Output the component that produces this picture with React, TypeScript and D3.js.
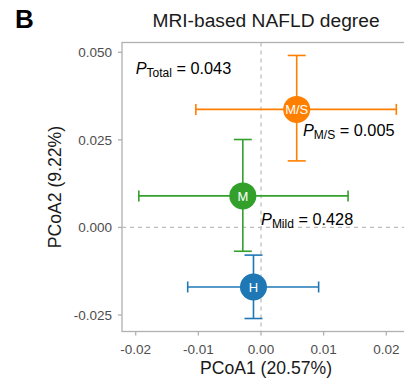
import React from "react";
import * as d3 from "d3";

const groups = ["H", "M", "M/S"];
const colors = ["#1f78b4", "#33a02c", "#ff7f00"];
const meanX = [-0.0012, -0.0029, 0.0057];
const meanY = [-0.0170, 0.0090, 0.0337];
const xLow = [-0.0117, -0.0195, -0.0104];
const xHigh = [0.0092, 0.0139, 0.0216];
const yLow = [-0.0260, -0.0068, 0.0190];
const yHigh = [-0.0079, 0.0251, 0.0491];

const xTicks = [-0.02, -0.01, 0.0, 0.01, 0.02];
const xTickLabels = ["-0.02", "-0.01", "0.00", "0.01", "0.02"];
const yTicks = [-0.025, 0.0, 0.025, 0.05];
const yTickLabels = ["-0.025", "0.000", "0.025", "0.050"];

const pLabels = ["Total", "M/S", "Mild"];
const pValues = ["0.043", "0.005", "0.428"];
const pX = [-0.0200, 0.0067, 0.0000];
const pY = [0.0437, 0.0262, 0.0007];

const W = 404;
const H = 381;
const font = "'Liberation Sans', Arial, Helvetica, sans-serif";

export default function App() {
  const x = d3.scaleLinear().domain([-0.02, 0.02]).range([135.7, 386.3]);
  const y = d3.scaleLinear().domain([-0.025, 0.05]).range([315, 52.3]);
  const left = 122, right = 410, top = 42.5, bottom = 331.5;
  const gray = "#b0b0b0";
  const tickCol = "#4d4d4d";
  return (
    <svg width={W} height={H} style={{ position: "absolute", left: 0, top: 0 }} fontFamily={font}>
      <rect x={0} y={0} width={W} height={H} fill="white" />
      <text x={15} y={28} fontSize={26} fontWeight="bold" fill="#000">B</text>
      <text x={266} y={27} fontSize={19.2} textAnchor="middle" fill="#1a1a1a">MRI-based NAFLD degree</text>
      {/* panel */}
      <rect x={left} y={top} width={right - left} height={bottom - top} fill="white" stroke={gray} strokeWidth={1.3} />
      {/* dashed zero lines */}
      <line x1={x(0)} x2={x(0)} y1={top} y2={bottom} stroke="#bdbdbd" strokeWidth={1.3} strokeDasharray="4,4" />
      <line x1={left} x2={right} y1={y(0)} y2={y(0)} stroke="#bdbdbd" strokeWidth={1.3} strokeDasharray="4,4" />
      {/* x ticks */}
      {xTicks.map((t, i) => (
        <g key={"xt" + i}>
          <line x1={x(t)} x2={x(t)} y1={bottom} y2={bottom + 4} stroke={gray} strokeWidth={1.3} />
          <text x={x(t)} y={354} fontSize={13.5} textAnchor="middle" fill={tickCol}>{xTickLabels[i]}</text>
        </g>
      ))}
      {yTicks.map((t, i) => (
        <g key={"yt" + i}>
          <line x1={left - 4} x2={left} y1={y(t)} y2={y(t)} stroke={gray} strokeWidth={1.3} />
          <text x={112} y={y(t) + 4.8} fontSize={13.5} textAnchor="end" fill={tickCol}>{yTickLabels[i]}</text>
        </g>
      ))}
      <text x={266} y={374} fontSize={17.6} textAnchor="middle" fill="#1a1a1a">PCoA1 (20.57%)</text>
      <text transform={`translate(61,187) rotate(-90)`} fontSize={17.6} textAnchor="middle" fill="#1a1a1a">PCoA2 (9.22%)</text>
      {/* error bars */}
      {groups.map((g, i) => {
        const c = colors[i];
        const cx = x(meanX[i]), cy = y(meanY[i]);
        return (
          <g key={"eb" + i} stroke={c} strokeWidth={1.6} fill="none">
            <line x1={x(xLow[i])} x2={x(xHigh[i])} y1={cy} y2={cy} />
            <line x1={x(xLow[i])} x2={x(xLow[i])} y1={cy - 5.5} y2={cy + 5.5} />
            <line x1={x(xHigh[i])} x2={x(xHigh[i])} y1={cy - 5.5} y2={cy + 5.5} />
            <line x1={cx} x2={cx} y1={y(yLow[i])} y2={y(yHigh[i])} />
            <line x1={cx - 9} x2={cx + 9} y1={y(yLow[i])} y2={y(yLow[i])} />
            <line x1={cx - 9} x2={cx + 9} y1={y(yHigh[i])} y2={y(yHigh[i])} />
          </g>
        );
      })}
      {groups.map((g, i) => {
        const cx = x(meanX[i]), cy = y(meanY[i]);
        return (
          <g key={"pt" + i}>
            <circle cx={cx} cy={cy} r={13.5} fill={colors[i]} />
            <text x={cx} y={cy + 4.6} fontSize={13} textAnchor="middle" fill="white">{g}</text>
          </g>
        );
      })}
      {pLabels.map((l, i) => (
        <text key={"pl" + i} x={x(pX[i])} y={y(pY[i])} fontSize={16.3} fill="#000">
          <tspan fontStyle="italic">P</tspan>
          <tspan fontSize={12} dy={3}>{l}</tspan>
          <tspan dy={-3}> = {pValues[i]}</tspan>
        </text>
      ))}
    </svg>
  );
}
